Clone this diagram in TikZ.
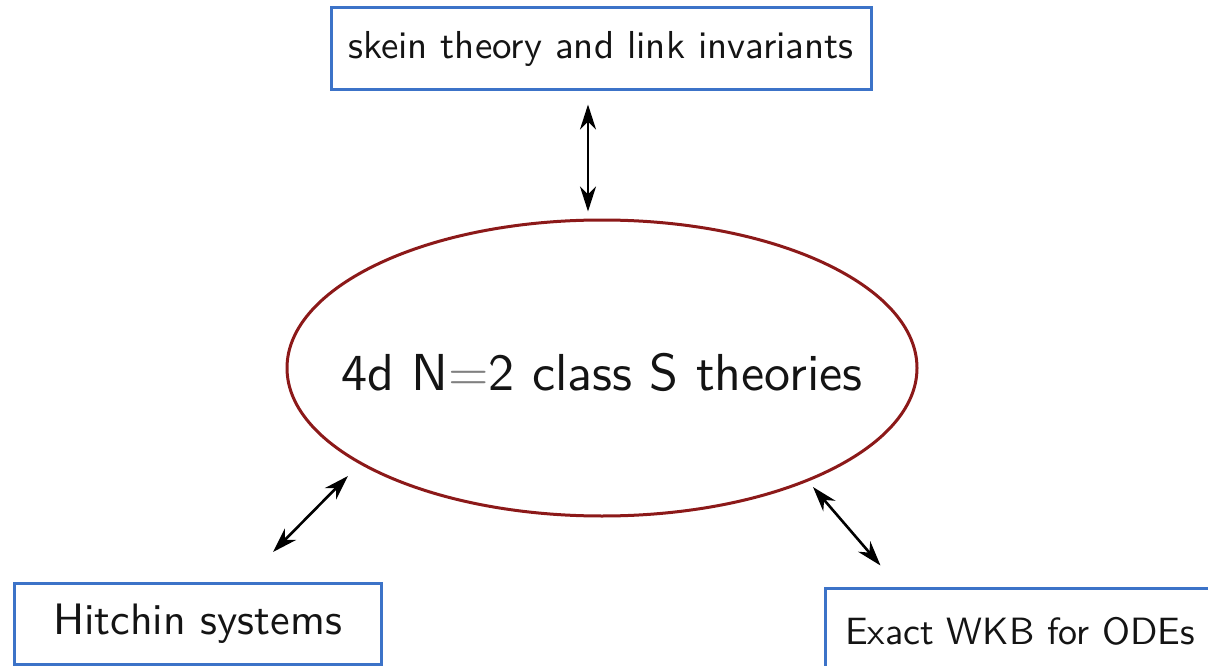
\documentclass[tikz,border=0pt]{standalone}
\usepackage{fontspec}
\newfontfamily\lmsten{lmsans10-regular}[Extension=.otf]
\usetikzlibrary{shapes.geometric,arrows.meta,calc}
\definecolor{boxblue}{RGB}{60,115,200}
\definecolor{ellred}{RGB}{140,25,25}
\definecolor{txt}{RGB}{20,20,20}
\begin{document}
\begin{tikzpicture}[x=1pt,y=-1pt,
  boxnode/.style={draw=boxblue,line width=3pt,rectangle,inner sep=0pt,text=txt},
  arr/.style={{Stealth[length=25pt,width=16pt,inset=8pt]}-{Stealth[length=25pt,width=16pt,inset=8pt]},line width=2.6pt,draw=black}]
\clip (0,0) rectangle (1208,666);
\fill[white] (0,0) rectangle (1208,666);
\node[boxnode,minimum width=540pt,minimum height=82pt,font=\lmsten\fontsize{39}{47}\selectfont] (skein) at (601,49) {skein theory and link invariants};
\node[draw=ellred,line width=3pt,ellipse,minimum width=630pt,minimum height=296pt,inner sep=0pt] (cls) at (602,368) {};
\node[text=txt,inner sep=0pt,font=\lmsten\fontsize{52}{62}\selectfont] (clstext) at ([yshift=-4pt]cls.center) {4d N{\color{gray}=}2 class S theories};
\node[boxnode,minimum width=367pt,minimum height=81pt,font=\lmsten\fontsize{44}{52}\selectfont] (hit) at (197.5,623.5) {Hitchin systems};
\node[boxnode,minimum width=390pt,minimum height=86pt,font=\lmsten\fontsize{38}{46}\selectfont] (wkb) at (1020,631) {Exact WKB for ODEs};
\draw[arr] ([xshift=-13pt,yshift=-13pt]skein.south) -- ([xshift=-14pt,yshift=7pt]cls.north);
\draw[arr] ($(cls.center)+(-254,108)$) -- ($(hit.center)+(75.5,-71.5)$);
\draw[arr] ($(cls.center)+(211,119)$) -- ($(wkb.north west)+(57,-21)$);
\end{tikzpicture}
\end{document}
